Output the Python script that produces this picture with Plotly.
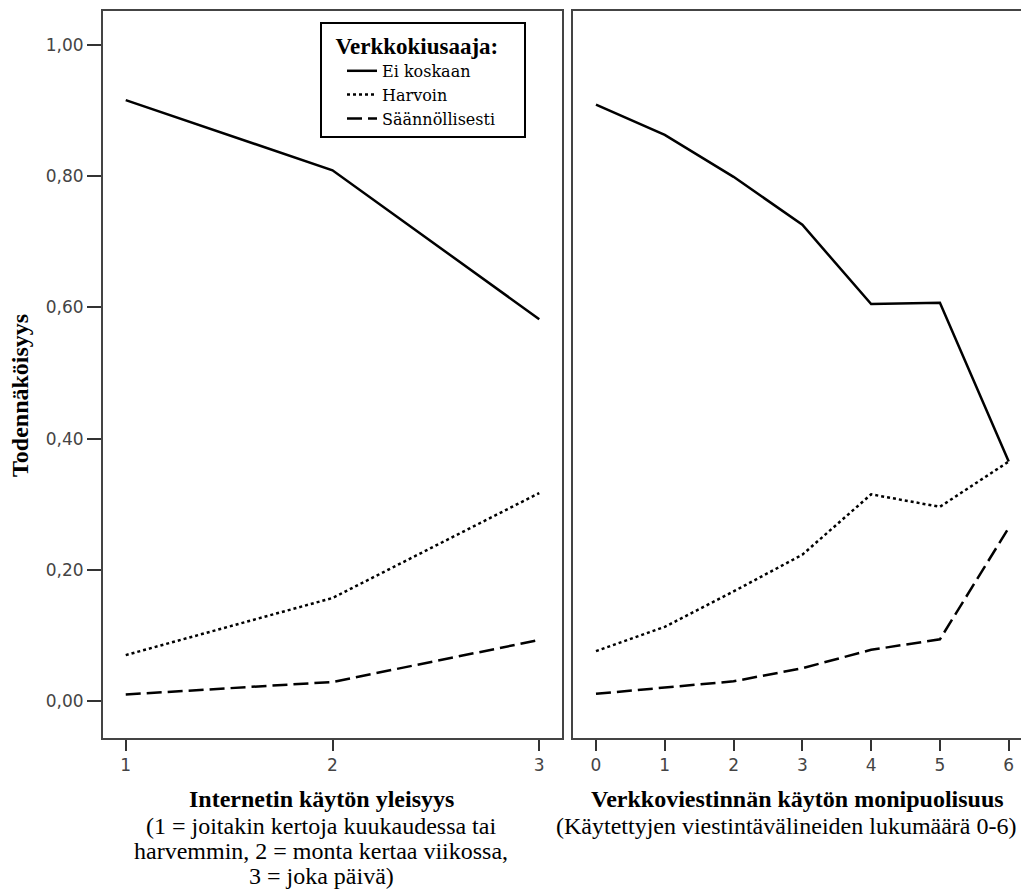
import plotly.graph_objects as go

# ---- data ----
series_names = ["Ei koskaan", "Harvoin", "Säännöllisesti"]
x_left = [1, 2, 3]
left_ei = [0.916, 0.809, 0.582]
left_harvoin = [0.070, 0.157, 0.317]
left_saann = [0.010, 0.029, 0.093]

x_right = [0, 1, 2, 3, 4, 5, 6]
right_ei = [0.909, 0.863, 0.799, 0.726, 0.605, 0.607, 0.365]
right_harvoin = [0.076, 0.113, 0.167, 0.223, 0.315, 0.296, 0.365]
right_saann = [0.011, 0.021, 0.030, 0.050, 0.078, 0.094, 0.264]

y_ticks = [0.0, 0.2, 0.4, 0.6, 0.8, 1.0]

# page is offset by the default 8px body margin
OFF = 8
W, H = 1029 - OFF, 894 - OFF
dashes = ["solid", "3px,3px", "15px,6px"]
serif = "Liberation Serif"
tickfont = dict(family="DejaVu Sans", size=17, color="#444444")

fig = go.Figure()
left_vals = [left_ei, left_harvoin, left_saann]
right_vals = [right_ei, right_harvoin, right_saann]
for i, name in enumerate(series_names):
    fig.add_trace(go.Scatter(x=x_left, y=left_vals[i], mode="lines", name=name,
                             line=dict(color="black", width=2.5, dash=dashes[i]),
                             xaxis="x", yaxis="y", showlegend=True))
for i, name in enumerate(series_names):
    fig.add_trace(go.Scatter(x=x_right, y=right_vals[i], mode="lines", name=name,
                             line=dict(color="black", width=2.5, dash=dashes[i]),
                             xaxis="x2", yaxis="y2", showlegend=False))

def fx(p):
    return (p - OFF) / W

def fy(p):
    return 1 - (p - OFF) / H

yrange = [-0.0564, 1.0518]
fig.update_layout(
    width=W, height=H,
    margin=dict(l=0, r=0, t=0, b=0),
    paper_bgcolor="white", plot_bgcolor="white",
    separators=", ",
    xaxis=dict(domain=[fx(103), fx(562)], range=[0.89, 3.11],
               tickvals=x_left, ticks="outside", ticklen=11, tickwidth=2, tickcolor="#333",
               showline=True, linecolor="#444", linewidth=2, mirror=True,
               showgrid=False, zeroline=False, tickfont=tickfont, automargin=False),
    yaxis=dict(domain=[fy(738), fy(11)], range=yrange,
               tickvals=y_ticks, tickformat=".2f", ticks="outside", ticklen=14, tickwidth=2,
               tickcolor="#333",
               showline=True, linecolor="#444", linewidth=2, mirror=True,
               showgrid=False, zeroline=False, tickfont=tickfont, automargin=False),
    xaxis2=dict(domain=[fx(573), 1.0], range=[-0.334, 6.295], anchor="y2",
                tickvals=x_right, ticks="outside", ticklen=11, tickwidth=2, tickcolor="#333",
                showline=True, linecolor="#444", linewidth=2, mirror=True,
                showgrid=False, zeroline=False, tickfont=tickfont, automargin=False),
    yaxis2=dict(domain=[fy(738), fy(11)], range=yrange, anchor="x2",
                showticklabels=False, ticks="",
                showline=True, linecolor="#444", linewidth=2, mirror=False,
                showgrid=False, zeroline=False, automargin=False),
    legend=dict(x=fx(320), y=fy(22), xanchor="left", yanchor="top",
                bordercolor="black", borderwidth=2, bgcolor="white",
                title=dict(text="&nbsp;&nbsp;<b>Verkkokiusaaja:</b>&nbsp;&nbsp;&nbsp;&nbsp;",
                           font=dict(family=serif, size=23, color="black")),
                font=dict(family="DejaVu Serif", size=16, color="black"),
                tracegroupgap=0, itemwidth=30, indentation=20),
)

tf = dict(family=serif, size=24, color="black")
annotations = [
    dict(text="<b>Todennäköisyys</b>", x=fx(20), y=fy(396), textangle=-90, font=tf),
    dict(text="<b>Internetin käytön yleisyys</b>", x=fx(321), y=fy(799), font=tf),
    dict(text="(1 = joitakin kertoja kuukaudessa tai", x=fx(321), y=fy(826), font=tf),
    dict(text="harvemmin, 2 = monta kertaa viikossa,", x=fx(321), y=fy(851), font=tf),
    dict(text="3 = joka päivä)", x=fx(321), y=fy(876), font=tf),
    dict(text="<b>Verkkoviestinnän käytön monipuolisuus</b>", x=fx(797), y=fy(799), font=tf),
    dict(text="(Käytettyjen viestintävälineiden lukumäärä 0-6)", x=fx(786), y=fy(826), font=tf),
]
for a in annotations:
    a.update(xref="paper", yref="paper", showarrow=False, xanchor="center", yanchor="middle")
fig.update_layout(annotations=annotations)

fig.write_html("out.html")
